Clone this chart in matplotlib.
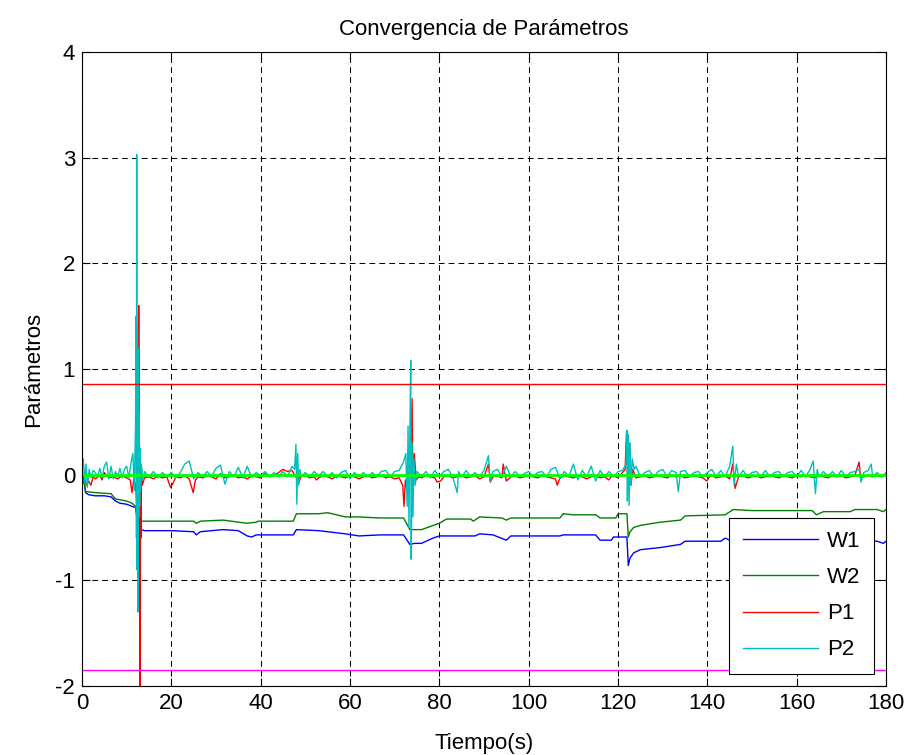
import matplotlib
matplotlib.use("Agg")
import matplotlib.pyplot as plt

# ---------------- data ----------------
W1_t = [0, 0.4, 0.8, 1.5, 3, 5, 6.5, 7.5, 8.5, 10, 11.2, 12, 12.4, 12.8, 13.2, 14, 20, 25, 25.6, 26.5,
        29, 31.6, 35, 37, 38, 39, 44, 47.3, 48, 53, 59, 62, 66.7, 72, 73.4, 74.5, 76, 78.6, 80, 88,
        89, 92, 95, 96, 107, 107.7, 115, 116, 118.5, 119, 122, 122.3, 122.7, 123.5, 125, 129.4,
        134, 135, 143, 144, 145, 150, 165, 172, 178, 179.4, 180]
W1_v = [0.0, -0.05, -0.17, -0.19, -0.2, -0.2, -0.21, -0.25, -0.27, -0.28, -0.3, -0.31, -0.45, -0.42,
        -0.52, -0.53, -0.53, -0.54, -0.57, -0.54, -0.53, -0.52, -0.53, -0.58, -0.59, -0.57, -0.57,
        -0.57, -0.52, -0.53, -0.56, -0.58, -0.57, -0.57, -0.66, -0.65, -0.65, -0.6, -0.58, -0.58,
        -0.56, -0.57, -0.62, -0.58, -0.58, -0.57, -0.57, -0.62, -0.62, -0.59, -0.59, -0.86, -0.79,
        -0.74, -0.71, -0.69, -0.66, -0.63, -0.63, -0.6, -0.62, -0.62, -0.62, -0.63, -0.63, -0.65, -0.63]

W2_t = [0, 0.4, 0.8, 3, 6.5, 7.5, 10, 11.2, 12, 12.5, 13, 20, 25, 25.6, 26.5, 31.6, 36.9, 39, 39.5,
        44.3, 47.3, 48, 53, 55, 59, 62, 66.7, 72, 73.4, 76, 80, 81.6, 87, 87.6, 89, 94, 95, 96, 107,
        107.7, 110, 115, 116, 119.5, 120, 122, 122.3, 122.7, 123.5, 125, 129.4, 134, 135, 144, 145.8,
        150, 163.5, 164.4, 166, 172, 173, 178, 179.4, 180]
W2_v = [0.0, -0.05, -0.16, -0.17, -0.18, -0.23, -0.25, -0.27, -0.3, -0.4, -0.44, -0.44, -0.44, -0.46,
        -0.44, -0.43, -0.46, -0.45, -0.44, -0.44, -0.44, -0.37, -0.37, -0.36, -0.4, -0.4, -0.41, -0.41,
        -0.52, -0.52, -0.46, -0.42, -0.42, -0.44, -0.4, -0.41, -0.43, -0.41, -0.41, -0.37, -0.38,
        -0.38, -0.41, -0.41, -0.37, -0.37, -0.59, -0.54, -0.5, -0.48, -0.45, -0.43, -0.39, -0.38,
        -0.33, -0.34, -0.34, -0.38, -0.35, -0.35, -0.33, -0.33, -0.35, -0.33]

# P1 (red) as (time, value) samples
P1_points = [
    (0, 0.0), (0.5, -0.03), (1.0, -0.1), (1.5, -0.06), (2.0, -0.1), (2.5, -0.02), (3.0, -0.04),
    (4.0, -0.01), (4.5, -0.05), (5.0, 0.02), (6.0, -0.03), (7.0, -0.02), (8.0, -0.04), (9.0, -0.01),
    (10.0, -0.03), (10.8, -0.05), (11.2, -0.17), (11.6, -0.04), (12.0, -0.1), (12.3, -0.3),
    (12.5, 0.4), (12.6, -0.45), (12.7, 1.6), (12.8, -0.88), (12.85, 0.3), (12.95, -2.5),
    (13.05, 0.1), (13.2, -0.6), (13.3, 0.05), (13.5, -0.1), (14, -0.03), (15, -0.02), (16, -0.04),
    (17, -0.01), (18, -0.03), (19, -0.02), (19.8, -0.12), (20.4, -0.08), (21, -0.02), (22, -0.03),
    (23, -0.01), (24, -0.04), (24.9, -0.17), (25.4, -0.05), (26, -0.02), (27, -0.03), (28, -0.01),
    (29, -0.02), (30, -0.04), (31, 0.01), (32, -0.03), (33, -0.02), (34, -0.01), (35, -0.03),
    (36, -0.02), (37, -0.04), (38, -0.01), (39, -0.02), (40, -0.03), (41, 0.01), (42, -0.02),
    (43, -0.01), (44, 0.02), (45, 0.05), (46, 0.03), (47, 0.04), (48, -0.03), (48.5, -0.08),
    (49, -0.02), (50, -0.01), (51, -0.03), (52, -0.02), (52.5, -0.05), (53, -0.03), (54, -0.01),
    (55, -0.02), (56, -0.04), (57, -0.01), (58, -0.02), (59, -0.03), (60, -0.01), (61, -0.02),
    (62, -0.04), (63, -0.02), (64, -0.01), (65, -0.03), (66, -0.02), (67, -0.01), (68, -0.03),
    (69, -0.02), (70, -0.04), (71, -0.03), (71.8, -0.1), (72.1, -0.3), (72.4, -0.05), (73.0, -0.2),
    (73.5, 0.1), (73.9, 0.72), (74.1, -0.2), (74.4, 0.2), (74.8, -0.05), (75.5, -0.02), (76, -0.03),
    (77, -0.01), (78, -0.02), (79, -0.03), (79.5, -0.07), (80.3, -0.06), (81, -0.02), (82, -0.01),
    (83, -0.03), (84, -0.02), (85, -0.01), (86, -0.03), (87, -0.02), (88, -0.01), (89, -0.04),
    (90, -0.02), (91, 0.1), (91.4, -0.07), (92, -0.02), (93, -0.01), (94, -0.03), (94.3, 0.1),
    (95, -0.06), (96, -0.02), (97, -0.01), (98, -0.03), (99, -0.02), (100, -0.01), (101, -0.02),
    (102, -0.03), (103, -0.01), (104, -0.02), (105, -0.03), (106, -0.04), (106.4, -0.1),
    (107, -0.03), (108, -0.01), (109, -0.02), (110, -0.03), (111, -0.01), (112, -0.02),
    (113, -0.04), (114, -0.02), (115, -0.01), (116, -0.03), (117, -0.02), (117.9, -0.05),
    (118.5, -0.02), (119, -0.01), (120, -0.03), (121, 0.02), (121.6, 0.05), (121.9, 0.4),
    (122.2, -0.15), (122.5, 0.3), (122.9, -0.1), (123.3, 0.05), (124, -0.03), (125, -0.02),
    (126, -0.01), (127, -0.03), (128, -0.02), (129, -0.01), (130, -0.02), (131, -0.03),
    (132, -0.01), (133, -0.02), (134, -0.01), (135, -0.03), (136, -0.02), (137, -0.01),
    (138, -0.02), (139, -0.03), (139.9, -0.06), (140.5, -0.02), (141, -0.01), (142, -0.03),
    (143, -0.02), (144, -0.01), (145, -0.04), (145.7, 0.1), (146.2, -0.13), (147, -0.02),
    (148, -0.01), (149, -0.03), (150, -0.02), (151, -0.01), (152, -0.03), (153, -0.02),
    (154, -0.01), (155, -0.02), (156, -0.03), (157, -0.01), (158, -0.02), (159, -0.03),
    (160, -0.01), (161, -0.02), (162, -0.01), (163, -0.02), (164, -0.03), (165, -0.01),
    (166, -0.02), (167, -0.03), (168, -0.01), (169, -0.02), (170, -0.01), (171, -0.03),
    (172, -0.02), (173, -0.01), (174, 0.12), (174.3, -0.03), (175, -0.02), (176, -0.01),
    (177, -0.02), (178, -0.01), (179, -0.02), (180, -0.01)]

# P2 (cyan) as (time, value) samples
P2_points = [
    (0, 0.02), (0.3, 0.15), (0.6, -0.08), (0.9, 0.1), (1.2, -0.12), (1.6, 0.05), (2.0, -0.03),
    (2.5, 0.04), (3.0, 0.02), (3.5, -0.02), (4.0, 0.06), (4.5, -0.03), (5.0, 0.08), (5.5, 0.12),
    (6.0, -0.04), (6.5, 0.08), (7.0, -0.04), (7.5, 0.03), (8.0, -0.02), (8.5, 0.06), (9.0, -0.03),
    (9.5, 0.05), (10.0, 0.08), (10.5, -0.03), (11.0, 0.12), (11.4, 0.2), (11.7, -0.15),
    (12.0, 0.5), (12.1, 1.5), (12.2, -0.6), (12.25, 3.03), (12.3, -0.9), (12.4, 1.4),
    (12.5, -1.3), (12.6, 1.2), (12.7, -0.4), (12.8, 0.6), (12.9, -0.3), (13.0, 0.25),
    (13.1, -0.15), (13.3, 0.1), (13.6, -0.05), (14, 0.03), (15, -0.02), (16, 0.03), (17, -0.03),
    (18, 0.02), (19, -0.02), (20, 0.02), (21, -0.03), (22, 0.02), (23, 0.1), (24, 0.13),
    (25, -0.04), (26, 0.02), (27, -0.02), (28, 0.03), (29, -0.02), (30, 0.06), (31, 0.09),
    (32, -0.09), (33, 0.03), (34, -0.02), (35, 0.07), (36, -0.03), (37, 0.08), (38, -0.03),
    (39, 0.02), (40, -0.01), (41, 0.03), (42, -0.02), (43, 0.02), (44, -0.02), (45, 0.03),
    (46, -0.02), (47, 0.08), (47.6, 0.05), (47.9, 0.29), (48.1, -0.28), (48.3, 0.2), (48.5, -0.1),
    (48.8, 0.05), (49, -0.02), (50, 0.02), (51, -0.02), (52, 0.03), (53, -0.01), (54, 0.03),
    (55, -0.02), (56, 0.02), (57, -0.03), (58, 0.02), (59, 0.04), (60, -0.04), (61, 0.02),
    (62, -0.02), (63, 0.02), (64, -0.02), (65, 0.02), (66, -0.02), (67, 0.03), (68, 0.04),
    (69, -0.02), (70, 0.03), (71, 0.04), (72, 0.12), (72.5, 0.2), (72.8, -0.3), (73.0, 0.46),
    (73.2, -0.5), (73.4, 0.4), (73.6, 1.08), (73.7, -0.8), (73.9, 0.3), (74.1, -0.4),
    (74.3, 0.15), (74.6, -0.1), (75, 0.03), (76, -0.02), (77, 0.03), (78, -0.03), (79, 0.04),
    (80, -0.02), (81, 0.03), (82, 0.05), (83, -0.02), (84, -0.17), (84.3, 0.03), (85, -0.02),
    (86, 0.04), (87, -0.02), (88, 0.02), (89, -0.02), (90, 0.04), (91, 0.18), (91.4, -0.06),
    (92, 0.03), (93, 0.05), (94, -0.02), (95, 0.08), (96, -0.02), (97, 0.03), (98, -0.02),
    (99, 0.01), (100, 0.03), (101, -0.02), (102, 0.02), (103, 0.03), (104, -0.02), (105, 0.05),
    (106, 0.07), (107, -0.04), (108, 0.03), (109, -0.02), (110, 0.1), (111, -0.05), (112, 0.04),
    (113, -0.02), (114, 0.08), (115, -0.06), (116, 0.04), (117, -0.02), (118, 0.03), (119, -0.02),
    (120, 0.03), (121, 0.04), (121.8, 0.1), (122.0, 0.42), (122.1, -0.25), (122.3, 0.38),
    (122.5, -0.29), (122.7, 0.3), (122.9, -0.1), (123.2, 0.15), (123.6, 0.05), (124, 0.08),
    (125, -0.02), (126, 0.02), (127, 0.04), (128, -0.02), (129, 0.03), (130, 0.05), (131, -0.02),
    (132, 0.04), (133, 0.02), (133.5, -0.16), (134, 0.03), (135, 0.04), (136, -0.02), (137, 0.02),
    (138, 0.03), (139, -0.02), (140, 0.02), (141, 0.05), (142, -0.02), (143, 0.04), (144, -0.02),
    (145, 0.08), (145.7, 0.27), (146, -0.1), (146.5, 0.1), (147, -0.02), (148, 0.04), (149, -0.02),
    (150, 0.02), (151, 0.03), (152, -0.02), (153, 0.04), (154, -0.02), (155, 0.02), (156, 0.03),
    (157, -0.02), (158, 0.02), (159, 0.03), (160, -0.02), (161, 0.04), (162, -0.02), (163, 0.05),
    (163.7, 0.13), (164.2, -0.18), (164.6, 0.05), (165, -0.02), (166, 0.03), (167, -0.02),
    (168, 0.03), (169, -0.02), (170, 0.04), (171, -0.02), (172, 0.02), (173, 0.03), (174, 0.05),
    (174.4, -0.07), (175, 0.02), (176, 0.04), (176.7, 0.1), (177, -0.02), (178, 0.02),
    (179, -0.02), (180, 0.02)]

REF_P1 = 0.86
REF_ZERO = 0.0
REF_P2 = -1.85

x_ticks = [0, 20, 40, 60, 80, 100, 120, 140, 160, 180]
y_ticks = [-2, -1, 0, 1, 2, 3, 4]
legend_labels = ["W1", "W2", "P1", "P2"]

P1_t = [p[0] for p in P1_points]
P1_v = [p[1] for p in P1_points]
P2_t = [p[0] for p in P2_points]
P2_v = [p[1] for p in P2_points]

# ---------------- style ----------------
plt.rcParams["font.family"] = ["Liberation Sans", "DejaVu Sans"]
plt.rcParams["axes.unicode_minus"] = False
FS = 16

fig = plt.figure(figsize=(9.09, 7.55), dpi=100)
ax = fig.add_axes([0.0902, 0.0914, 0.8845, 0.8397])

lw = 1.0
h1, = ax.plot(W1_t, W1_v, color=(0, 0, 1), lw=lw)
h2, = ax.plot(W2_t, W2_v, color=(0, 0.5, 0), lw=lw)
h3, = ax.plot(P1_t, P1_v, color=(1, 0, 0), lw=lw)
h4, = ax.plot(P2_t, P2_v, color=(0, 0.75, 0.75), lw=lw)
ax.axhline(REF_P1, color=(1, 0, 0), lw=1.0)
ax.axhline(REF_ZERO, color=(0, 1, 0), lw=2.0)
ax.axhline(REF_P2, color=(1, 0, 1), lw=1.0)

ax.set_xlim(0, 180)
ax.set_ylim(-2, 4)
ax.set_xticks(x_ticks)
ax.set_yticks(y_ticks)
ax.grid(True, color="black", lw=0.75, linestyle=(0, (5.5, 4)))
ax.tick_params(direction="in", length=6, width=0.8, top=True, right=True,
               labelsize=FS, pad=5)
for s in ax.spines.values():
    s.set_linewidth(0.8)

ax.set_title("Convergencia de Parámetros", fontsize=FS, pad=12)
ax.set_xlabel("Tiempo(s)", fontsize=FS, labelpad=14)
ax.set_ylabel("Parámetros", fontsize=FS, labelpad=8)

leg = ax.legend([h1, h2, h3, h4], legend_labels, loc="lower right",
                fontsize=FS, frameon=True, fancybox=False, edgecolor="black",
                framealpha=1.0, handlelength=3.4, borderaxespad=0.55, labelspacing=0.68,
                handletextpad=0.4, borderpad=0.6)
leg.get_frame().set_linewidth(0.8)

fig.savefig("out.png", dpi=100)
